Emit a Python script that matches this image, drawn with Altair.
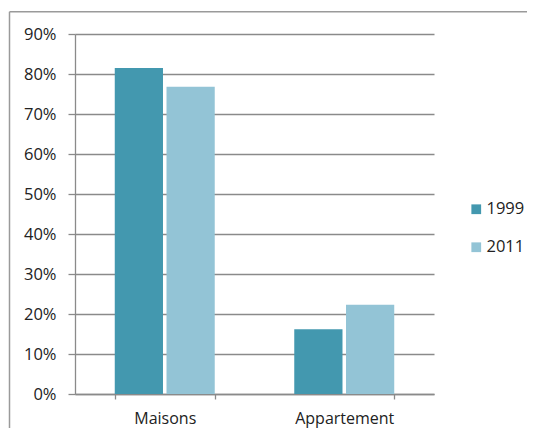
import altair as alt
import pandas as pd

categories = ["Maisons", "Maisons", "Appartement", "Appartement"]
years = ["1999", "2011", "1999", "2011"]
shares = [0.815, 0.768, 0.162, 0.223]

df = pd.DataFrame({"type": categories, "annee": years, "part": shares})

FONT = "Open Sans"
GRAY = "#8a8a8a"

bars = alt.Chart(df).mark_bar().encode(
    x=alt.X("type:N", sort=["Maisons", "Appartement"], title=None,
            scale=alt.Scale(paddingInner=0.443, paddingOuter=0.2215),
            axis=alt.Axis(labelAngle=0, labelFontSize=16, labelFont=FONT,
                          labelColor="#222222", tickBand="extent", tickSize=5,
                          tickColor=GRAY, domainColor=GRAY, domainWidth=1.3,
                          tickWidth=1.3, labelPadding=11, grid=False)),
    xOffset=alt.XOffset("annee:N", scale=alt.Scale(paddingInner=0.068, paddingOuter=0)),
    y=alt.Y("part:Q", title=None,
            scale=alt.Scale(domain=[0, 0.9], nice=False),
            axis=alt.Axis(format=".0%", values=[i / 10 for i in range(10)],
                          labelFontSize=16.5, labelFont=FONT, labelColor="#222222",
                          tickSize=7, tickColor=GRAY, tickWidth=1.3,
                          domainColor=GRAY, domainWidth=1.3,
                          gridColor=GRAY, gridWidth=1.3, labelPadding=12)),
    color=alt.Color("annee:N", title=None,
                    scale=alt.Scale(domain=["1999", "2011"], range=["#4398AF", "#93C4D6"]),
                    legend=alt.Legend(orient="none", legendX=393, legendY=167,
                                      symbolType="square", symbolSize=95,
                                      symbolStrokeWidth=0, labelFontSize=16.5,
                                      labelFont=FONT, labelColor="#222222",
                                      rowPadding=21, labelOffset=2, padding=0)),
)

frame = pd.DataFrame({"a": [0]})
top_edge = alt.Chart(frame).mark_rule(stroke="#9a9a9a", strokeWidth=1.5).encode(
    x=alt.value(-65.5), x2=alt.value(470), y=alt.value(-22.3)
)
left_edge = alt.Chart(frame).mark_rule(stroke="#9a9a9a", strokeWidth=1.5).encode(
    x=alt.value(-65.5), y=alt.value(-22.3), y2=alt.value(430)
)

chart = alt.layer(top_edge, left_edge, bars).properties(
    width=359, height=360,
    padding={"left": 67, "top": 26, "right": 93, "bottom": 34},
    autosize=alt.AutoSizeParams(type="none"),
).configure_view(stroke=None)

chart.save("out.html", embed_options={"renderer": "svg", "actions": False})
